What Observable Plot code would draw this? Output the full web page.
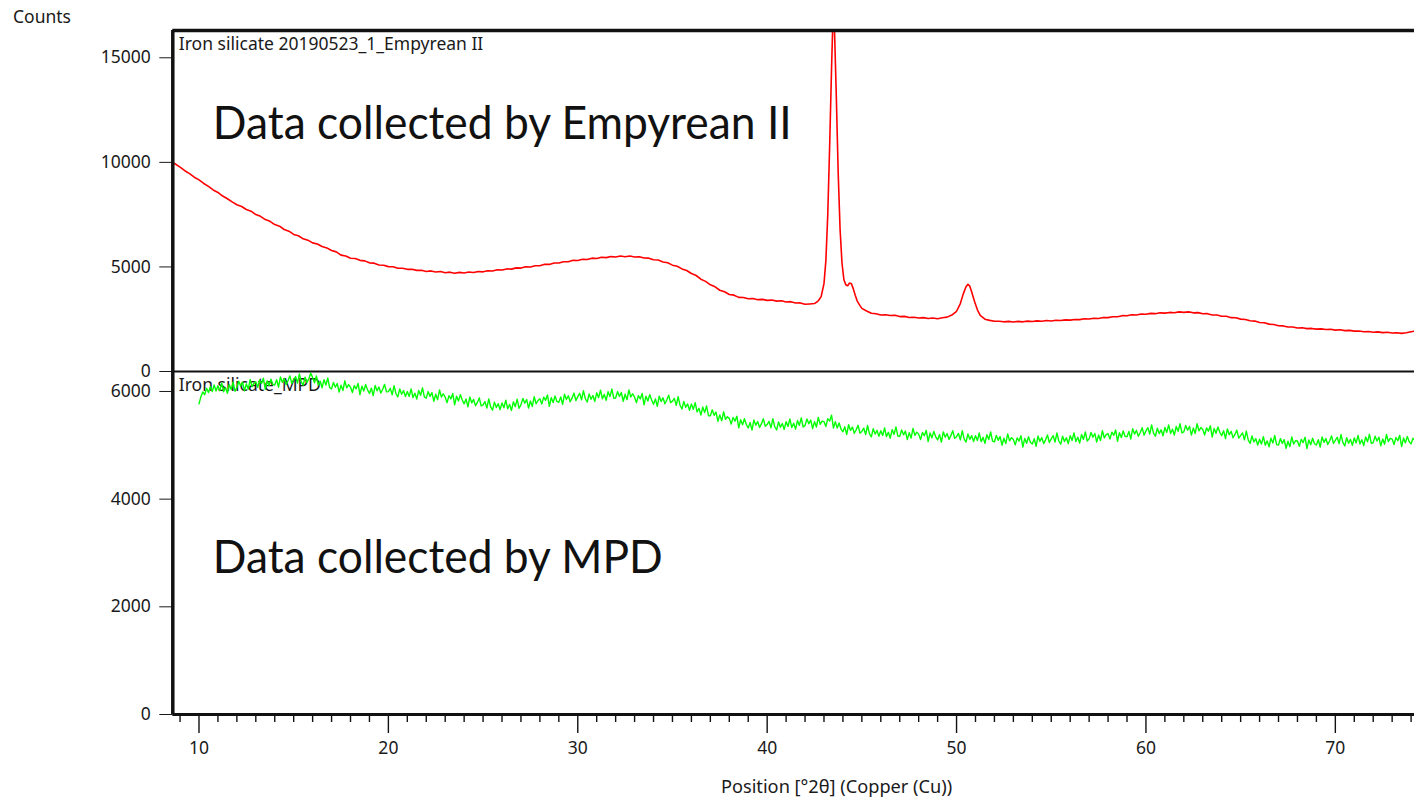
<!DOCTYPE html>
<html><head><meta charset="utf-8">
<script src="https://cdn.jsdelivr.net/npm/d3@7"></script>
<script src="https://cdn.jsdelivr.net/npm/@observablehq/plot@0.6"></script>
<style>
html,body{margin:0;padding:0;background:#fff;}
#wrap{position:relative;width:1414px;height:798px;overflow:hidden;font-family:"Noto Sans",sans-serif;}
#wrap svg{position:absolute;left:0;}
</style></head><body><div id="wrap"></div>
<script>
// ---- data ----
const xDomain = [8.617, 74.18];
const majorTicks = [10, 20, 30, 40, 50, 60, 70];
const minorTicks = [9,11,12,13,14,15,16,17,18,19,21,22,23,24,25,26,27,28,29,31,32,33,34,35,36,37,38,39,41,42,43,44,45,46,47,48,49,51,52,53,54,55,56,57,58,59,61,62,63,64,65,66,67,68,69,71,72,73,74];
const topTicks = [0, 5000, 10000, 15000];
const bottomTicks = [0, 2000, 4000, 6000];
const topMax = 16305;
const bottomMax = 6371;
const yTitle = "Counts";
const xTitle = "Position [°2θ] (Copper (Cu))";
const topLabel = "Iron silicate 20190523_1_Empyrean II";
const bottomLabel = "Iron silicate_MPD";
const topNote = "Data collected by Empyrean II";
const bottomNote = "Data collected by MPD";

const empyrean = [[8.62,9990],[8.75,9920],[9.0,9770],[9.25,9600],[9.5,9460],[9.75,9290],[10.0,9160],[10.25,8990],[10.5,8850],[10.75,8680],[11.0,8560],[11.25,8390],[11.5,8260],[11.75,8110],[12.0,7975],[12.25,7890],[12.5,7745],[12.75,7665],[13.0,7505],[13.25,7420],[13.5,7265],[13.75,7180],[14.0,7025],[14.25,6950],[14.5,6790],[14.75,6710],[15.0,6555],[15.25,6490],[15.5,6345],[15.75,6280],[16.0,6150],[16.25,6100],[16.5,5975],[16.75,5910],[17.0,5785],[17.25,5720],[17.5,5565],[17.75,5520],[18.0,5415],[18.25,5400],[18.5,5315],[18.75,5290],[19.0,5195],[19.25,5180],[19.5,5095],[19.75,5080],[20.0,5015],[20.25,5010],[20.5,4935],[20.75,4940],[21.0,4885],[21.25,4890],[21.5,4835],[21.75,4840],[22.0,4785],[22.25,4810],[22.5,4755],[22.75,4780],[23.0,4725],[23.25,4750],[23.5,4700],[23.75,4740],[24.0,4710],[24.25,4755],[24.5,4730],[24.75,4780],[25.0,4765],[25.25,4820],[25.5,4805],[25.75,4865],[26.0,4850],[26.25,4905],[26.5,4895],[26.75,4955],[27.0,4945],[27.25,5005],[27.5,4995],[27.75,5060],[28.0,5060],[28.25,5125],[28.5,5120],[28.75,5185],[29.0,5185],[29.25,5250],[29.5,5250],[29.75,5320],[30.0,5305],[30.25,5365],[30.5,5355],[30.75,5420],[31.0,5405],[31.25,5460],[31.5,5445],[31.75,5495],[32.0,5475],[32.25,5520],[32.5,5490],[32.75,5525],[33.0,5475],[33.25,5490],[33.5,5425],[33.75,5420],[34.0,5345],[34.25,5330],[34.5,5235],[34.75,5200],[35.0,5085],[35.25,5030],[35.5,4905],[35.75,4830],[36.0,4685],[36.25,4590],[36.5,4415],[36.75,4310],[37.0,4145],[37.25,4050],[37.5,3885],[37.75,3810],[38.0,3685],[38.25,3650],[38.5,3545],[38.75,3540],[39.0,3475],[39.25,3490],[39.5,3435],[39.75,3450],[40.0,3400],[40.25,3415],[40.5,3365],[40.75,3380],[41.0,3325],[41.25,3340],[41.5,3275],[41.75,3280],[42.0,3215],[42.25,3230],[42.5,3250],[42.7,3380],[42.85,3580],[43.0,4200],[43.1,5300],[43.2,7500],[43.3,10800],[43.4,14500],[43.47,16800],[43.55,16500],[43.65,13200],[43.75,9500],[43.85,6800],[43.95,5200],[44.05,4400],[44.15,4150],[44.25,4100],[44.35,4230],[44.45,4200],[44.55,3950],[44.65,3650],[44.75,3380],[44.9,3150],[45.0,3020],[45.25,2895],[45.5,2785],[45.75,2765],[46.0,2705],[46.25,2715],[46.5,2675],[46.75,2685],[47.0,2625],[47.25,2635],[47.5,2585],[47.75,2595],[48.0,2555],[48.25,2575],[48.5,2535],[48.75,2555],[49.0,2525],[49.25,2570],[49.5,2600],[49.75,2700],[50.0,2880],[50.2,3250],[50.35,3700],[50.5,4050],[50.6,4170],[50.7,4080],[50.8,3800],[50.95,3350],[51.1,2950],[51.25,2680],[51.5,2500],[51.75,2445],[52.0,2400],[52.25,2405],[52.5,2375],[52.75,2395],[53.0,2365],[53.25,2395],[53.5,2375],[53.75,2410],[54.0,2390],[54.25,2420],[54.5,2405],[54.75,2435],[55.0,2415],[55.25,2450],[55.5,2435],[55.75,2470],[56.0,2455],[56.25,2490],[56.5,2480],[56.75,2520],[57.0,2510],[57.25,2545],[57.5,2535],[57.75,2580],[58.0,2575],[58.25,2620],[58.5,2615],[58.75,2670],[59.0,2665],[59.25,2710],[59.5,2705],[59.75,2750],[60.0,2740],[60.25,2780],[60.5,2765],[60.75,2805],[61.0,2790],[61.25,2825],[61.5,2810],[61.75,2850],[62.0,2825],[62.25,2850],[62.5,2805],[62.75,2815],[63.0,2760],[63.25,2765],[63.5,2705],[63.75,2700],[64.0,2645],[64.25,2640],[64.5,2575],[64.75,2570],[65.0,2505],[65.25,2490],[65.5,2425],[65.75,2410],[66.0,2345],[66.25,2330],[66.5,2265],[66.75,2250],[67.0,2185],[67.25,2180],[67.5,2125],[67.75,2125],[68.0,2080],[68.25,2090],[68.5,2050],[68.75,2060],[69.0,2025],[69.25,2040],[69.5,2005],[69.75,2020],[70.0,1980],[70.25,1995],[70.5,1955],[70.75,1965],[71.0,1930],[71.25,1940],[71.5,1900],[71.75,1915],[72.0,1880],[72.25,1895],[72.5,1860],[72.75,1875],[73.0,1840],[73.25,1855],[73.5,1825],[73.75,1850],[74.0,1900],[74.18,1930]];

const mpd = [
[10.0,5770],[10.1,5900],[10.2,5990],[10.3,5940],[10.4,6060],[10.5,5980],[10.6,6090],[10.7,6000],[10.8,6120],[10.9,6010],
[11.0,6105],[11.1,6015],[11.2,6155],[11.3,5995],[11.4,6075],[11.5,5965],[11.6,6125],[11.7,6035],[11.8,6175],[11.9,6005],
[12.0,6072],[12.1,6192],[12.2,6102],[12.3,6172],[12.4,6012],[12.5,6142],[12.6,6042],[12.7,6222],[12.8,6092],[12.9,6152],
[13.0,6178],[13.1,6078],[13.2,6208],[13.3,6148],[13.4,6248],[13.5,6038],[13.6,6198],[13.7,6108],[13.8,6228],[13.9,6128],
[14.0,6120],[14.1,6220],[14.2,6080],[14.3,6270],[14.4,6170],[14.5,6240],[14.6,6130],[14.7,6200],[14.8,6290],[14.9,6150],
[15.0,6217],[15.1,6277],[15.2,6157],[15.3,6327],[15.4,6177],[15.5,6117],[15.6,6267],[15.7,6167],[15.8,6237],[15.9,6340],
[16.0,6260],[16.1,6160],[16.2,6290],[16.3,6120],[16.4,6190],[16.5,6070],[16.6,6220],[16.7,6120],[16.8,6250],[16.9,6070],
[17.0,6048],[17.1,6168],[17.2,6078],[17.3,6148],[17.4,5988],[17.5,6118],[17.6,6018],[17.7,6198],[17.8,6068],[17.9,6128],
[18.0,6080],[18.1,5980],[18.2,6110],[18.3,6050],[18.4,6150],[18.5,5940],[18.6,6100],[18.7,6010],[18.8,6130],[18.9,6030],
[19.0,5962],[19.1,6062],[19.2,5922],[19.3,6112],[19.4,6012],[19.5,6082],[19.6,5972],[19.7,6042],[19.8,6132],[19.9,5992],
[20.0,5998],[20.1,6058],[20.2,5938],[20.3,6108],[20.4,5958],[20.5,5898],[20.6,6048],[20.7,5948],[20.8,6018],[20.9,5908],
[21.0,5998],[21.1,5908],[21.2,6048],[21.3,5888],[21.4,5968],[21.5,5858],[21.6,6018],[21.7,5928],[21.8,6068],[21.9,5898],
[22.0,5878],[22.1,5998],[22.2,5908],[22.3,5978],[22.4,5818],[22.5,5948],[22.6,5848],[22.7,6028],[22.8,5898],[22.9,5958],
[23.0,5892],[23.1,5792],[23.2,5922],[23.3,5862],[23.4,5962],[23.5,5752],[23.6,5912],[23.7,5822],[23.8,5942],[23.9,5842],
[24.0,5770],[24.1,5862],[24.2,5715],[24.3,5897],[24.4,5790],[24.5,5852],[24.6,5735],[24.7,5797],[24.8,5880],[24.9,5732],
[25.0,5752],[25.1,5812],[25.2,5692],[25.3,5862],[25.4,5712],[25.5,5652],[25.6,5802],[25.7,5702],[25.8,5772],[25.9,5662],
[26.0,5788],[26.1,5698],[26.2,5838],[26.3,5678],[26.4,5758],[26.5,5648],[26.6,5808],[26.7,5718],[26.8,5858],[26.9,5688],
[27.0,5752],[27.1,5872],[27.2,5782],[27.3,5852],[27.4,5692],[27.5,5822],[27.6,5722],[27.7,5902],[27.8,5772],[27.9,5832],
[28.0,5865],[28.1,5765],[28.2,5895],[28.3,5835],[28.4,5935],[28.5,5725],[28.6,5885],[28.7,5795],[28.8,5915],[28.9,5815],
[29.0,5800],[29.1,5900],[29.2,5760],[29.3,5950],[29.4,5850],[29.5,5920],[29.6,5810],[29.7,5880],[29.8,5970],[29.9,5830],
[30.0,5905],[30.1,5965],[30.2,5845],[30.3,6015],[30.4,5865],[30.5,5805],[30.6,5955],[30.7,5855],[30.8,5925],[30.9,5815],
[31.0,5975],[31.1,5885],[31.2,6025],[31.3,5865],[31.4,5945],[31.5,5835],[31.6,5995],[31.7,5905],[31.8,6045],[31.9,5875],
[32.0,5878],[32.1,5998],[32.2,5908],[32.3,5978],[32.4,5818],[32.5,5948],[32.6,5848],[32.7,6028],[32.8,5898],[32.9,5958],
[33.0,5892],[33.1,5792],[33.2,5922],[33.3,5862],[33.4,5962],[33.5,5752],[33.6,5912],[33.7,5822],[33.8,5942],[33.9,5842],
[34.0,5762],[34.1,5862],[34.2,5722],[34.3,5912],[34.4,5812],[34.5,5882],[34.6,5772],[34.7,5842],[34.8,5932],[34.9,5792],
[35.0,5820],[35.1,5871],[35.2,5742],[35.3,5903],[35.4,5744],[35.5,5675],[35.6,5816],[35.7,5707],[35.8,5768],[35.9,5650],
[36.0,5770],[36.1,5667],[36.2,5793],[36.3,5620],[36.4,5687],[36.5,5563],[36.6,5710],[36.7,5607],[36.8,5733],[36.9,5550],
[37.0,5550],[37.1,5659],[37.2,5558],[37.3,5617],[37.4,5446],[37.5,5565],[37.6,5454],[37.7,5623],[37.8,5482],[37.9,5531],
[38.0,5500],[38.1,5393],[38.2,5516],[38.3,5449],[38.4,5542],[38.5,5324],[38.6,5477],[38.7,5380],[38.8,5493],[38.9,5386],
[39.0,5322],[39.1,5422],[39.2,5282],[39.3,5472],[39.4,5372],[39.5,5442],[39.6,5332],[39.7,5402],[39.8,5492],[39.9,5352],
[40.0,5385],[40.1,5445],[40.2,5325],[40.3,5495],[40.4,5345],[40.5,5285],[40.6,5435],[40.7,5335],[40.8,5405],[40.9,5295],
[41.0,5440],[41.1,5350],[41.2,5490],[41.3,5330],[41.4,5410],[41.5,5300],[41.6,5460],[41.7,5370],[41.8,5510],[41.9,5340],
[42.0,5370],[42.1,5490],[42.2,5400],[42.3,5470],[42.4,5310],[42.5,5440],[42.6,5340],[42.7,5520],[42.8,5390],[42.9,5450],
[43.0,5440],[43.1,5350],[43.2,5495],[43.3,5450],[43.4,5560],[43.5,5320],[43.6,5440],[43.7,5320],[43.8,5415],[43.9,5300],
[44.0,5250],[44.1,5344],[44.2,5198],[44.3,5382],[44.4,5276],[44.5,5340],[44.6,5224],[44.7,5288],[44.8,5372],[44.9,5226],
[45.0,5258],[45.1,5318],[45.2,5198],[45.3,5368],[45.4,5218],[45.5,5158],[45.6,5308],[45.7,5208],[45.8,5278],[45.9,5168],
[46.0,5272],[46.1,5182],[46.2,5322],[46.3,5162],[46.4,5242],[46.5,5132],[46.6,5292],[46.7,5202],[46.8,5342],[46.9,5172],
[47.0,5165],[47.1,5285],[47.2,5195],[47.3,5265],[47.4,5105],[47.5,5235],[47.6,5135],[47.7,5315],[47.8,5185],[47.9,5245],
[48.0,5208],[48.1,5108],[48.2,5238],[48.3,5178],[48.4,5278],[48.5,5068],[48.6,5228],[48.7,5138],[48.8,5258],[48.9,5158],
[49.0,5100],[49.1,5200],[49.2,5060],[49.3,5250],[49.4,5150],[49.5,5220],[49.6,5110],[49.7,5180],[49.8,5270],[49.9,5130],
[50.0,5160],[50.1,5220],[50.2,5100],[50.3,5270],[50.4,5120],[50.5,5060],[50.6,5210],[50.7,5110],[50.8,5180],[50.9,5070],
[51.0,5178],[51.1,5088],[51.2,5228],[51.3,5068],[51.4,5148],[51.5,5038],[51.6,5198],[51.7,5108],[51.8,5248],[51.9,5078],
[52.0,5062],[52.1,5182],[52.2,5092],[52.3,5162],[52.4,5002],[52.5,5132],[52.6,5032],[52.7,5212],[52.8,5082],[52.9,5142],
[53.0,5108],[53.1,5008],[53.2,5138],[53.3,5078],[53.4,5178],[53.5,4968],[53.6,5128],[53.7,5038],[53.8,5158],[53.9,5058],
[54.0,5022],[54.1,5122],[54.2,4982],[54.3,5172],[54.4,5072],[54.5,5142],[54.6,5032],[54.7,5102],[54.8,5192],[54.9,5052],
[55.0,5120],[55.1,5180],[55.2,5060],[55.3,5230],[55.4,5080],[55.5,5020],[55.6,5170],[55.7,5070],[55.8,5140],[55.9,5030],
[56.0,5180],[56.1,5090],[56.2,5230],[56.3,5070],[56.4,5150],[56.5,5040],[56.6,5200],[56.7,5110],[56.8,5250],[56.9,5080],
[57.0,5120],[57.1,5240],[57.2,5150],[57.3,5220],[57.4,5060],[57.5,5190],[57.6,5090],[57.7,5270],[57.8,5140],[57.9,5200],
[58.0,5215],[58.1,5115],[58.2,5245],[58.3,5185],[58.4,5285],[58.5,5075],[58.6,5235],[58.7,5145],[58.8,5265],[58.9,5165],
[59.0,5158],[59.1,5258],[59.2,5118],[59.3,5308],[59.4,5208],[59.5,5278],[59.6,5168],[59.7,5238],[59.8,5328],[59.9,5188],
[60.0,5268],[60.1,5328],[60.2,5208],[60.3,5378],[60.4,5228],[60.5,5168],[60.6,5318],[60.7,5218],[60.8,5288],[60.9,5178],
[61.0,5330],[61.1,5240],[61.2,5380],[61.3,5220],[61.4,5300],[61.5,5190],[61.6,5350],[61.7,5260],[61.8,5400],[61.9,5230],
[62.0,5250],[62.1,5370],[62.2,5280],[62.3,5350],[62.4,5190],[62.5,5320],[62.6,5220],[62.7,5400],[62.8,5270],[62.9,5330],
[63.0,5292],[63.1,5192],[63.2,5322],[63.3,5262],[63.4,5362],[63.5,5152],[63.6,5312],[63.7,5222],[63.8,5342],[63.9,5242],
[64.0,5180],[64.1,5272],[64.2,5123],[64.3,5305],[64.4,5197],[64.5,5258],[64.6,5140],[64.7,5202],[64.8,5283],[64.9,5135],
[65.0,5180],[65.1,5231],[65.2,5101],[65.3,5262],[65.4,5102],[65.5,5033],[65.6,5173],[65.7,5064],[65.8,5124],[65.9,5005],
[66.0,5112],[66.1,5022],[66.2,5162],[66.3,5002],[66.4,5082],[66.5,4972],[66.6,5132],[66.7,5042],[66.8,5182],[66.9,5012],
[67.0,5005],[67.1,5125],[67.2,5035],[67.3,5105],[67.4,4945],[67.5,5075],[67.6,4975],[67.7,5155],[67.8,5025],[67.9,5085],
[68.0,5080],[68.1,4980],[68.2,5110],[68.3,5050],[68.4,5150],[68.5,4940],[68.6,5100],[68.7,5010],[68.8,5130],[68.9,5030],
[69.0,5005],[69.1,5105],[69.2,4965],[69.3,5155],[69.4,5055],[69.5,5125],[69.6,5015],[69.7,5085],[69.8,5175],[69.9,5035],
[70.0,5090],[70.1,5150],[70.2,5030],[70.3,5200],[70.4,5050],[70.5,4990],[70.6,5140],[70.7,5040],[70.8,5110],[70.9,5000],
[71.0,5135],[71.1,5045],[71.2,5185],[71.3,5025],[71.4,5105],[71.5,4995],[71.6,5155],[71.7,5065],[71.8,5205],[71.9,5035],
[72.0,5050],[72.1,5170],[72.2,5080],[72.3,5150],[72.4,4990],[72.5,5120],[72.6,5020],[72.7,5200],[72.8,5070],[72.9,5130],
[73.0,5115],[73.1,5015],[73.2,5145],[73.3,5085],[73.4,5185],[73.5,4975],[73.6,5135],[73.7,5045],[73.8,5165],[73.9,5065],
[74.0,5030],[74.1,5130],[74.2,5090]];

// ---- layout ----
const W = 1414, LEFT = 172.3, TOP = 30, DIV = 371, BOTTOM = 714, H = 798;
const ink = "#1a1a1a";
const FS = 17.5;
const baseStyle = {background: "transparent", fontFamily: '"Noto Sans", sans-serif', fontSize: FS + "px", color: ink, overflow: "visible"};
const wrap = document.getElementById("wrap");

const topPlot = Plot.plot({
  width: W, height: DIV + 9, marginLeft: LEFT, marginRight: 0, marginTop: TOP, marginBottom: 9,
  style: baseStyle,
  x: {domain: xDomain, axis: null},
  y: {domain: [0, topMax], ticks: topTicks, tickSize: 13, tickPadding: 9, tickFormat: "d", label: null},
  marks: [
    Plot.text([topLabel], {text: d => d, frameAnchor: "top-left", dx: 6, dy: 6.6, lineAnchor: "top", fontSize: FS, fill: ink}),
    Plot.text([topNote], {text: d => d, frameAnchor: "top-left", dx: 40, dy: 75.5, lineAnchor: "top", fontSize: 47, fontFamily: "Lato, sans-serif", fill: "#111"}),
    Plot.line(empyrean, {x: d => d[0], y: d => d[1], stroke: "#ff0000", strokeWidth: 1.6, clip: true}),
    Plot.ruleY([0], {stroke: "#111", strokeWidth: 2}),
    Plot.ruleY([topMax], {stroke: "#111", strokeWidth: 3.5}),
    Plot.ruleX([xDomain[0]], {stroke: "#111", strokeWidth: 3.5})
  ]
});
topPlot.style.top = "0px";
wrap.appendChild(topPlot);

const bottomPlot = Plot.plot({
  width: W, height: H - DIV, marginLeft: LEFT, marginRight: 0, marginTop: 0, marginBottom: H - BOTTOM,
  style: baseStyle,
  x: {domain: xDomain, axis: null},
  y: {domain: [0, bottomMax], ticks: bottomTicks, tickSize: 13, tickPadding: 9, tickFormat: "d", label: null},
  marks: [
    Plot.axisX(minorTicks, {anchor: "bottom", tickSize: 8, tickFormat: () => "", label: null, strokeWidth: 1.4, stroke: "#111"}),
    Plot.axisX(majorTicks, {anchor: "bottom", tickSize: 19, tickPadding: 8, tickFormat: "d", label: null, strokeWidth: 1.4, stroke: "#111", fontSize: FS}),
    Plot.text([bottomLabel], {text: d => d, frameAnchor: "top-left", dx: 6, dy: 7.3, lineAnchor: "top", fontSize: FS, fill: ink}),
    Plot.text([bottomNote], {text: d => d, frameAnchor: "top-left", dx: 40, dy: 168.6, lineAnchor: "top", fontSize: 47, fontFamily: "Lato, sans-serif", fill: "#111"}),
    Plot.line(mpd, {x: d => d[0], y: d => d[1], stroke: "#00ff00", strokeWidth: 1.4, clip: true}),
    Plot.ruleY([0], {stroke: "#111", strokeWidth: 3}),
    Plot.ruleX([xDomain[0]], {stroke: "#111", strokeWidth: 3.5})
  ]
});
bottomPlot.style.top = DIV + "px";
wrap.appendChild(bottomPlot);

// titles
d3.select(topPlot).append("text").attr("x", 13).attr("y", 23.3).attr("text-anchor", "start")
  .attr("font-size", FS).attr("fill", ink).text(yTitle);
d3.select(bottomPlot).append("text").attr("x", 836.6).attr("y", 793 - DIV)
  .attr("text-anchor", "middle").attr("font-size", 18.2).attr("fill", ink).text(xTitle);

// fit the large notes to the reference widths
d3.select(topPlot).selectAll("text").filter(function(){ return this.textContent === topNote; })
  .attr("textLength", 579).attr("lengthAdjust", "spacingAndGlyphs");
d3.select(bottomPlot).selectAll("text").filter(function(){ return this.textContent === bottomNote; })
  .attr("textLength", 450).attr("lengthAdjust", "spacingAndGlyphs");
</script></body></html>
